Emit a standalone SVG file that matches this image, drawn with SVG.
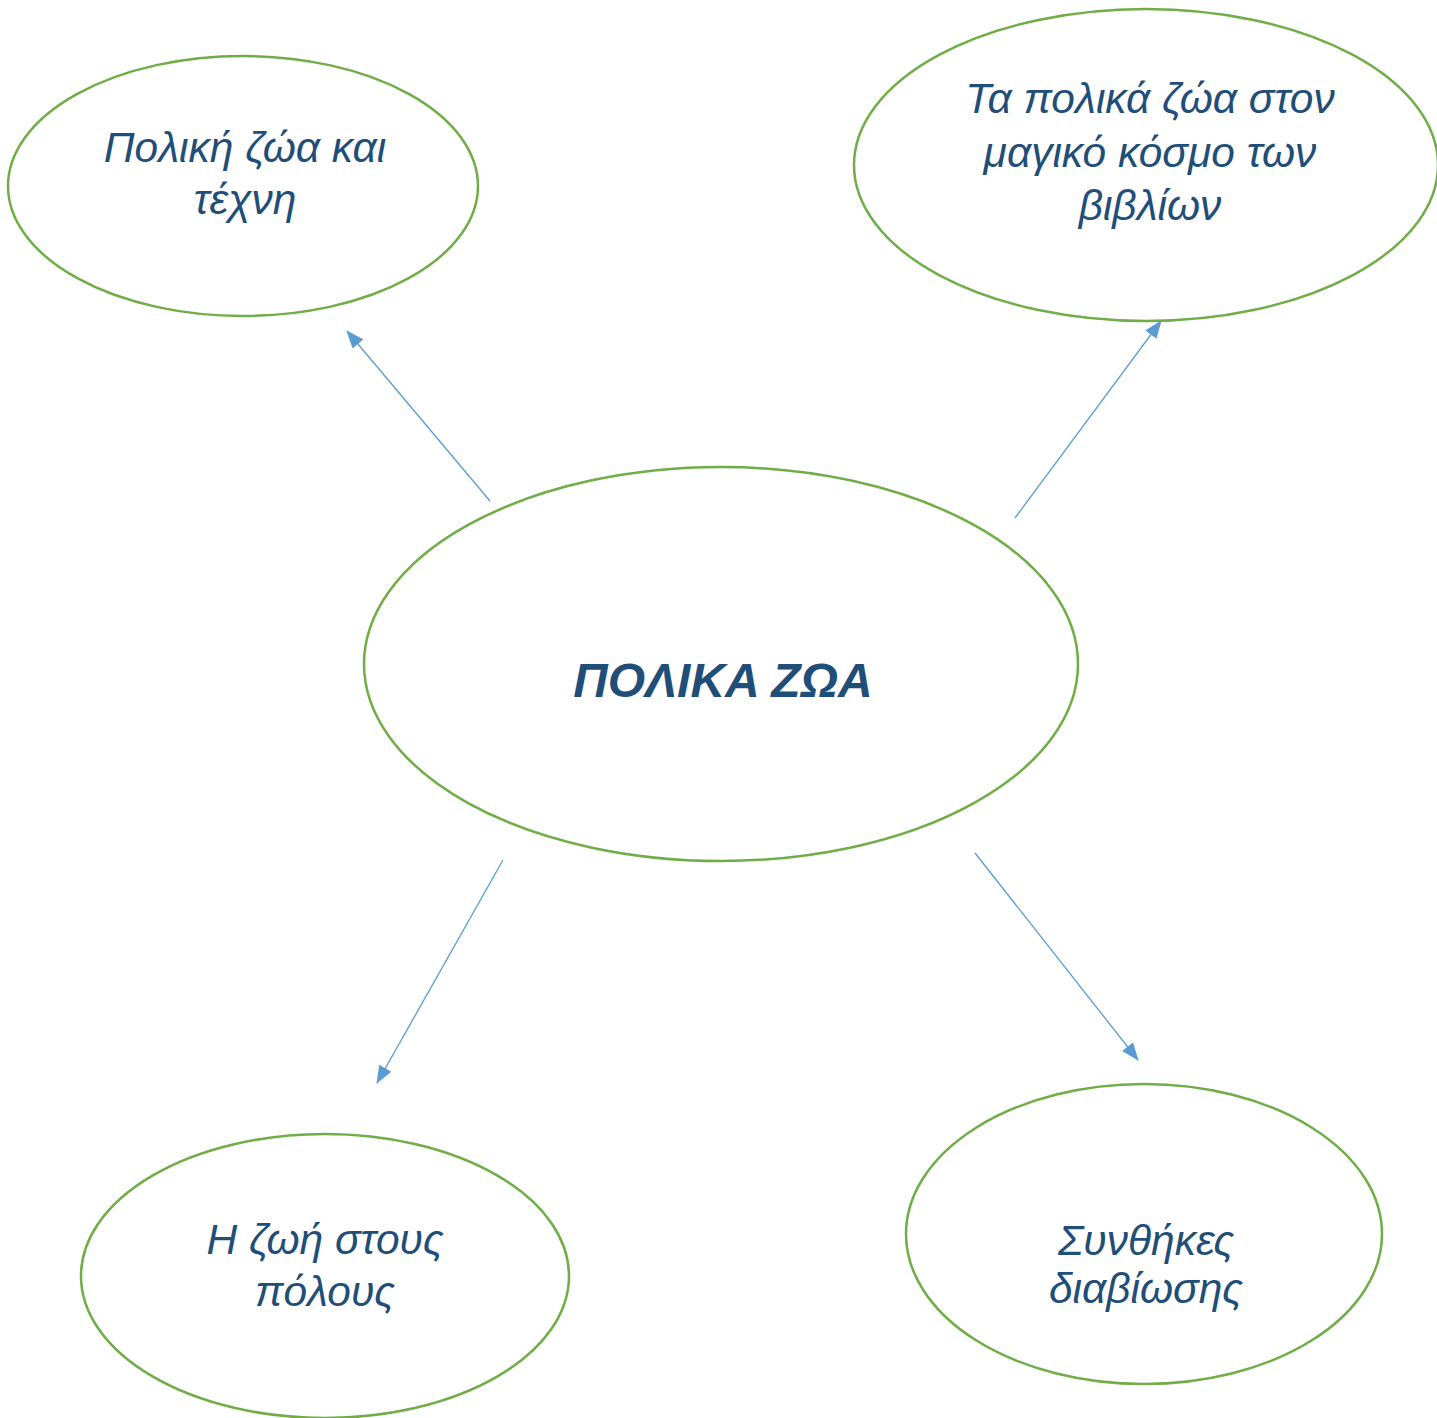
<svg xmlns="http://www.w3.org/2000/svg" width="1437" height="1418" viewBox="0 0 1437 1418">
<defs>
<style>
.node ellipse{fill:#fff;stroke:#70AD47;stroke-width:2.5}
.lbl{font-family:"Liberation Sans",Arial,sans-serif;font-style:italic;font-size:42.5px;fill:#1F4E79;text-anchor:middle}
.main{font-weight:bold;font-size:48px}
.conn line{stroke:#5B9BD5;stroke-width:1.3}
</style>
<marker id="ah" markerUnits="userSpaceOnUse" markerWidth="18" markerHeight="14" refX="17" refY="7" orient="auto">
<path d="M0,0 L18,7 L0,14 Z" fill="#5B9BD5"/>
</marker>
</defs>
<rect width="1437" height="1418" fill="#fff"/>
<g id="connectors" class="conn">
<line x1="490" y1="501" x2="347" y2="331" marker-end="url(#ah)"/>
<line x1="1015" y1="518" x2="1161" y2="321" marker-end="url(#ah)"/>
<line x1="503" y1="860" x2="377" y2="1083" marker-end="url(#ah)"/>
<line x1="975" y1="853" x2="1138" y2="1060" marker-end="url(#ah)"/>
</g>
<g id="node-center" class="node">
<ellipse cx="721" cy="664" rx="357" ry="197"/>
<text class="lbl main" x="723" y="697">ΠΟΛΙΚΑ ΖΩΑ</text>
</g>
<g id="node-art" class="node">
<ellipse cx="243" cy="186" rx="235" ry="130"/>
<text class="lbl" x="245" y="162">Πολική ζώα και</text>
<text class="lbl" x="245" y="214">τέχνη</text>
</g>
<g id="node-books" class="node">
<ellipse cx="1146" cy="165" rx="292" ry="156"/>
<text class="lbl" x="1150" y="113">Τα πολικά ζώα στον</text>
<text class="lbl" x="1150" y="167">μαγικό κόσμο των</text>
<text class="lbl" x="1150" y="220">βιβλίων</text>
</g>
<g id="node-poles" class="node">
<ellipse cx="325" cy="1276" rx="244" ry="142"/>
<text class="lbl" x="325" y="1254">Η ζωή στους</text>
<text class="lbl" x="325" y="1306">πόλους</text>
</g>
<g id="node-living" class="node">
<ellipse cx="1144" cy="1234" rx="238" ry="150"/>
<text class="lbl" x="1146" y="1255">Συνθήκες</text>
<text class="lbl" x="1146" y="1303">διαβίωσης</text>
</g>
</svg>
